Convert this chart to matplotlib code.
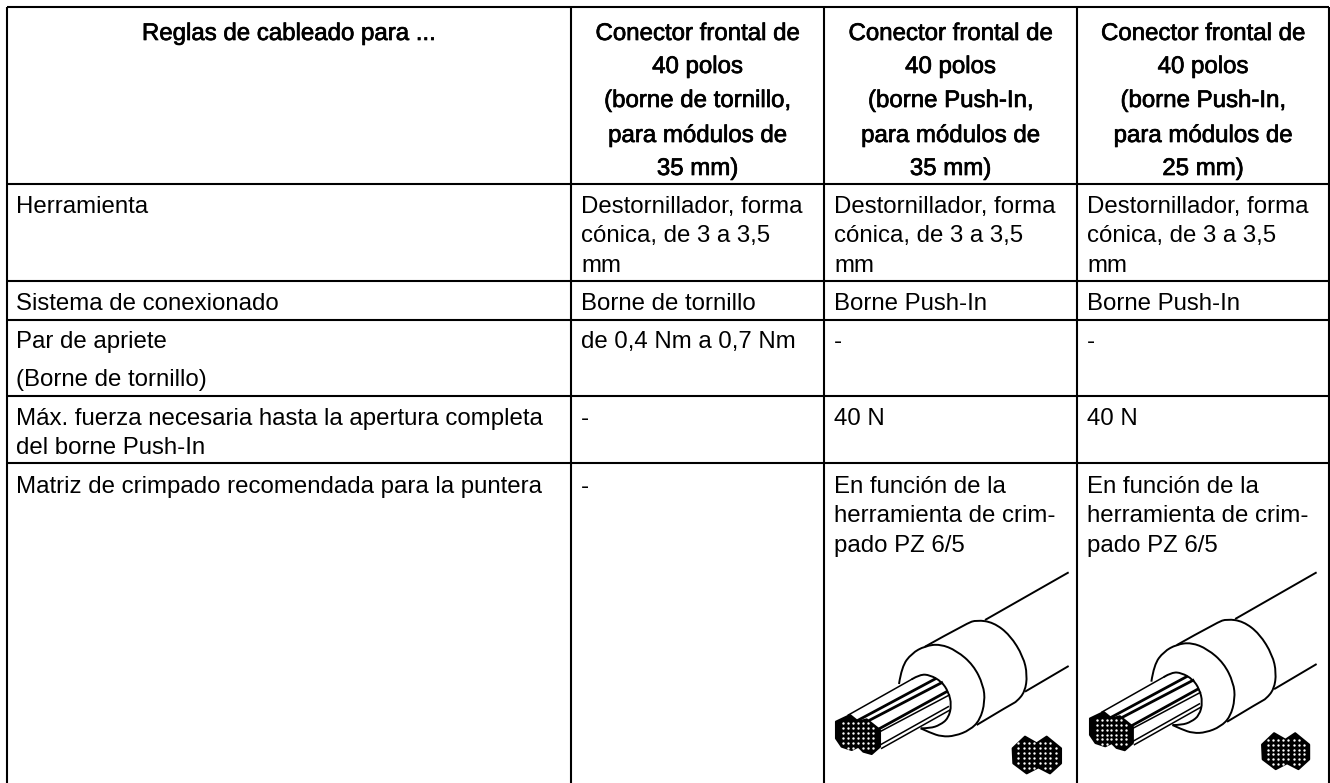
import numpy as np
import matplotlib
matplotlib.use("Agg")
import matplotlib.pyplot as plt
import matplotlib.patheffects as pe
from matplotlib.path import Path
from matplotlib.patches import PathPatch

plt.rcParams['font.family'] = ['Liberation Sans', 'DejaVu Sans']

# table text
header_top = ["Reglas de cableado para ...", "Conector frontal de", "Conector frontal de", "Conector frontal de"]
header_2 = ["", "40 polos", "40 polos", "40 polos"]
header_3 = ["", "(borne de tornillo,", "(borne Push-In,", "(borne Push-In,"]
header_4 = ["", "para módulos de", "para módulos de", "para módulos de"]
header_5 = ["", "35 mm)", "35 mm)", "25 mm)"]
header_baselines = [40, 73, 107, 142, 175]

col_herramienta = ["Herramienta", "Destornillador, forma\ncónica, de 3 a 3,5\nmm", "Destornillador, forma\ncónica, de 3 a 3,5\nmm", "Destornillador, forma\ncónica, de 3 a 3,5\nmm"]
col_sistema = ["Sistema de conexionado", "Borne de tornillo", "Borne Push-In", "Borne Push-In"]
col_par = ["Par de apriete\n(Borne de tornillo)", "de 0,4 Nm a 0,7 Nm", "-", "-"]
col_fuerza = ["Máx. fuerza necesaria hasta la apertura completa\ndel borne Push-In", "-", "40 N", "40 N"]
col_matriz = ["Matriz de crimpado recomendada para la puntera", "-", "En función de la\nherramienta de crim-\npado PZ 6/5", "En función de la\nherramienta de crim-\npado PZ 6/5"]
body_rows = [col_herramienta, col_sistema, col_par, col_fuerza, col_matriz]
body_baselines = [213, 310, 348, 425, 493]

# grid, in pixels of the picture
col_edges = [6.5, 571, 824, 1077, 1329]
row_edges = [7, 184, 281, 320, 396, 463]

# ferrule drawing, in units of 1/3 pixel
wire_top = [(465, 180), (716, 37)]
wire_bottom = [(585, 395), (716, 318)]
barrel = [(285, 260), (410, 190), (440, 180), (490, 187), (540, 225), (580, 290), (592, 345), (585, 395), (560, 425), (545, 432), (440, 495)]
front_edge = [(207, 372), (215, 320), (245, 280), (285, 258), (330, 252), (380, 272), (430, 315), (460, 375), (465, 425), (450, 480), (420, 510), (375, 528), (335, 530), (300, 518), (272, 505)]
hole_edge = [(245, 358), (270, 343), (300, 345), (335, 365), (355, 395), (365, 435), (355, 475), (330, 495), (300, 505), (272, 505)]
strands_thin = [[(55, 465), (245, 358)], [(150, 515), (358, 405)], [(150, 555), (355, 440)], [(155, 565), (360, 450)]]
strands_thick = [[(80, 483), (315, 357)], [(120, 480), (335, 368)], [(150, 505), (350, 395)]]
section_big = [(18, 485), (60, 465), (85, 485), (110, 478), (150, 510), (150, 560), (125, 582), (100, 575), (85, 560), (65, 570), (35, 560), (18, 535)]
section_big_dot_x = [39, 54, 69, 84, 99, 114, 129]
section_big_dot_y = [489, 504, 519, 534, 549, 564]
section_small = [(548, 565), (585, 530), (620, 550), (650, 530), (693, 565), (693, 610), (660, 640), (625, 622), (590, 640), (550, 610)]
section_small_dot_x = [565, 581, 597, 613, 629, 645, 661, 677]
section_small_dot_y = [550, 565, 580, 595, 610, 625]


# smooth line through the points using quadratic segments
def smooth_path(pts):
    pts = np.array(pts, dtype=float)
    verts = [pts[0]]
    codes = [Path.MOVETO]
    for i in range(1, len(pts) - 1):
        end = (pts[i] + pts[i + 1]) / 2 if i < len(pts) - 2 else pts[i + 1]
        verts += [pts[i], end]
        codes += [Path.CURVE3, Path.CURVE3]
    return Path(verts, codes)


# draws one ferrule, zoom coords go to picture pixels with to_px
def draw_ferrule(ax, to_px):
    for line in [wire_top, wire_bottom]:
        xy = to_px(line)
        ax.plot(xy[:, 0], xy[:, 1], color="black", lw=1.4, solid_capstyle="butt")
    for curve in [barrel, front_edge, hole_edge]:
        ax.add_patch(PathPatch(smooth_path(to_px(curve)), fill=False, ec="black", lw=1.4))
    for line in strands_thin:
        xy = to_px(line)
        ax.plot(xy[:, 0], xy[:, 1], color="black", lw=1.1)
    for line in strands_thick:
        xy = to_px(line)
        ax.plot(xy[:, 0], xy[:, 1], color="black", lw=2.0)
    sections = [(section_big, section_big_dot_x, section_big_dot_y), (section_small, section_small_dot_x, section_small_dot_y)]
    for poly, dot_x, dot_y in sections:
        xy = to_px(poly)
        ax.fill(xy[:, 0], xy[:, 1], fc="black", ec="black", lw=1.5, joinstyle="round", zorder=3)
        gx, gy = np.meshgrid(dot_x, dot_y)
        dots = np.column_stack([gx.ravel(), gy.ravel()])
        inside = Path(np.array(poly)).contains_points(dots, radius=-1)
        d = to_px(dots[inside])
        ax.scatter(d[:, 0], d[:, 1], s=3.0, color="white", lw=0, zorder=4)


def left_px(pts):
    p = np.array(pts, dtype=float)
    return np.column_stack([830 + p[:, 0] / 3, 560 + p[:, 1] / 3])


def right_px(pts):
    p = np.array(pts, dtype=float)
    return np.column_stack([1075 + (45 + 0.974 * (p[:, 0] - 18)) / 3, 560 + (37 + 0.979 * (p[:, 1] - 37)) / 3])


fig = plt.figure(figsize=(13.3, 7.83), dpi=100)
ax = fig.add_axes([0, 0, 1, 1])
ax.set_xlim(0, 1330)
ax.set_ylim(783, 0)
ax.axis("off")

ax.hlines(row_edges, col_edges[0], col_edges[-1], color="black", lw=1.5)
ax.vlines(col_edges, row_edges[0], 783, color="black", lw=1.5)

# header, slightly thickened like the original
centers = [(col_edges[i] + col_edges[i + 1]) / 2 for i in range(4)]
bold = [pe.withStroke(linewidth=0.5, foreground="black")]
header_lines = [header_top, header_2, header_3, header_4, header_5]
for line, y in zip(header_lines, header_baselines):
    for c, t in zip(centers, line):
        ax.text(c, y, t, ha="center", va="baseline", fontsize=17.3, path_effects=bold)

# body
line_step = 29.3
for row, y in zip(body_rows, body_baselines):
    for i, cell in enumerate(row):
        for k, t in enumerate(cell.split("\n")):
            step = 38 if cell.startswith("Par") else line_step
            ax.text(col_edges[i] + 10, y + k * step, t, ha="left", va="baseline", fontsize=17.3)

draw_ferrule(ax, left_px)
draw_ferrule(ax, right_px)

fig.savefig("out.png", dpi=100)
